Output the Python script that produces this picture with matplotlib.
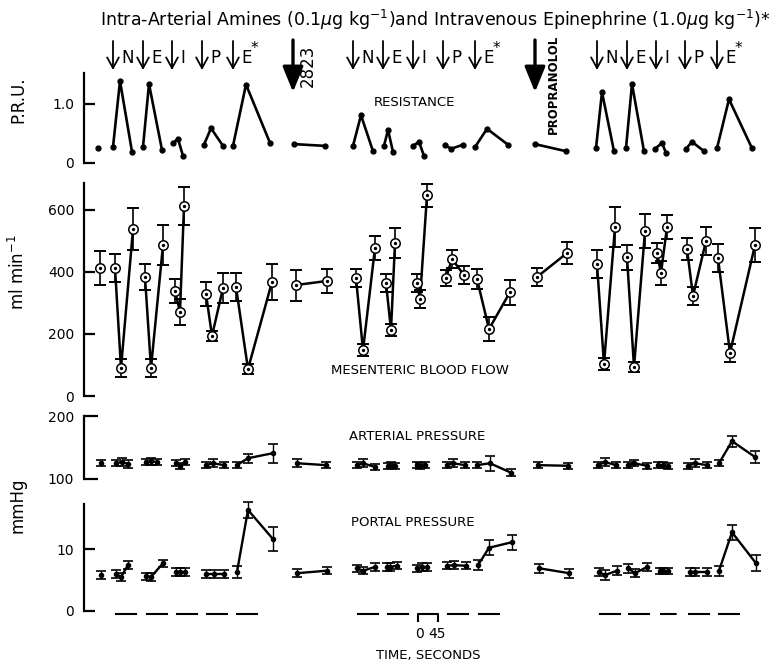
import numpy as np
import matplotlib
matplotlib.use('Agg')
import matplotlib.pyplot as plt

plt.rcParams['font.family'] = ['DejaVu Sans']

W, H = 777, 663

# group id of each sample: points with the same id are joined by a line
groups = [0, 1, 1, 1, 2, 2, 2, 3, 3, 3, 4, 4, 4, 5, 5, 5, 6, 6,
          7, 7, 7, 8, 8, 8, 9, 9, 9, 10, 10, 10, 11, 11, 11, 12, 12,
          13, 13, 13, 14, 14, 14, 15, 15, 15, 16, 16, 16, 17, 17, 17]

# ---- Resistance (P.R.U.) ----
res_t = [98, 113, 120, 132, 143, 149, 162, 173, 178, 183, 204, 211, 223, 233, 246, 270, 294, 325,
         353, 361, 373, 384, 388, 393, 413, 419, 424, 445, 451, 463, 475, 487, 508, 535, 566,
         596, 602, 614, 626, 632, 644, 655, 662, 666, 686, 692, 704, 717, 729, 752]
res_v = [0.25, 0.27, 1.39, 0.19, 0.27, 1.34, 0.22, 0.34, 0.41, 0.12, 0.31, 0.59, 0.29, 0.29, 1.33, 0.34, 0.32, 0.29,
         0.29, 0.81, 0.20, 0.29, 0.56, 0.19, 0.29, 0.36, 0.12, 0.31, 0.24, 0.31, 0.27, 0.58, 0.31, 0.32, 0.20,
         0.25, 1.20, 0.20, 0.25, 1.34, 0.20, 0.24, 0.34, 0.17, 0.24, 0.36, 0.20, 0.25, 1.08, 0.25]

# ---- Mesenteric blood flow (ml/min) ----
flow_t = [100, 115, 121, 133, 145, 151, 163, 175, 180, 184, 206, 212, 223, 236, 248, 272, 296, 327,
          356, 363, 375, 386, 391, 395, 417, 420, 427, 446, 452, 464, 477, 489, 510, 537, 567,
          597, 604, 615, 627, 634, 645, 657, 661, 667, 687, 693, 706, 718, 730, 755]
flow_v = [413, 413, 90, 538, 384, 90, 487, 339, 271, 613, 329, 194, 348, 352, 87, 368, 358, 371,
          381, 148, 478, 365, 213, 494, 365, 313, 648, 381, 442, 390, 377, 216, 335, 384, 461,
          426, 103, 545, 448, 94, 532, 461, 397, 545, 474, 323, 500, 445, 139, 487]
flow_e = [55, 45, 30, 68, 43, 28, 65, 38, 43, 60, 40, 15, 48, 46, 15, 58, 50, 40,
          29, 20, 38, 30, 20, 48, 30, 30, 37, 27, 30, 28, 33, 38, 40, 28, 35,
          45, 20, 65, 40, 15, 55, 32, 38, 38, 35, 28, 45, 45, 28, 55]

# ---- Arterial pressure (mmHg) ----
art_t = [101, 116, 122, 128, 146, 151, 157, 176, 180, 185, 206, 213, 224, 237, 248, 273, 297, 326,
         357, 363, 375, 388, 391, 395, 417, 420, 425, 447, 453, 465, 477, 490, 511, 538, 568,
         598, 605, 616, 628, 634, 647, 658, 663, 668, 688, 695, 707, 719, 732, 755]
art_v = [125, 125, 127, 124, 127, 128, 127, 125, 121, 127, 122, 125, 122, 122, 133, 141, 125, 122,
         122, 125, 119, 121, 122, 121, 122, 121, 122, 122, 125, 122, 122, 125, 110, 122, 121,
         122, 127, 122, 122, 125, 121, 122, 122, 121, 121, 125, 122, 125, 160, 135]
art_e = [5, 5, 6, 6, 5, 5, 5, 5, 5, 5, 5, 6, 5, 5, 7, 15, 6, 5,
         5, 6, 5, 5, 5, 5, 5, 5, 5, 5, 6, 5, 5, 12, 6, 5, 5,
         5, 6, 5, 5, 5, 5, 5, 5, 5, 5, 6, 5, 5, 9, 9]

# ---- Portal pressure (mmHg) ----
por_t = [101, 116, 121, 128, 146, 151, 163, 176, 180, 185, 206, 214, 224, 237, 248, 273, 297, 327,
         357, 363, 375, 387, 390, 397, 417, 422, 427, 447, 454, 466, 478, 489, 512, 539, 569,
         599, 605, 617, 628, 635, 647, 660, 663, 668, 690, 695, 707, 719, 732, 756]
por_v = [5.8, 6.0, 5.5, 7.4, 5.6, 5.5, 7.7, 6.3, 6.3, 6.3, 6.0, 6.0, 6.0, 6.3, 16.3, 11.6, 6.1, 6.5,
         6.9, 6.5, 7.1, 7.1, 7.1, 7.3, 6.9, 7.1, 7.1, 7.3, 7.4, 7.3, 7.4, 10.2, 11.1, 6.9, 6.1,
         6.3, 5.8, 6.5, 6.9, 6.1, 7.1, 6.5, 6.5, 6.5, 6.3, 6.3, 6.3, 6.5, 12.7, 7.7]
por_e = [0.6, 0.6, 0.7, 0.7, 0.6, 0.6, 0.6, 0.6, 0.6, 0.6, 0.6, 0.6, 0.6, 1.0, 1.3, 2.0, 0.6, 0.6,
         0.6, 0.6, 0.6, 0.6, 0.6, 0.6, 0.6, 0.6, 0.6, 0.6, 0.6, 0.6, 0.8, 1.2, 1.2, 0.7, 0.7,
         0.7, 0.8, 0.7, 0.7, 0.6, 0.7, 0.5, 0.5, 0.5, 0.6, 0.6, 0.6, 0.8, 1.2, 1.3]

# ---- injections ----
inj_t = [113, 143, 172, 202, 233, 353, 383, 413, 443, 475, 597, 627, 656, 685, 717]
inj_lab = ['N', 'E', 'I', 'P', 'E*'] * 3
drug_t = [293, 535]
drug_lab = ['2823', 'PROPRANOLOL']
inf_start = [116, 147, 177, 207, 237, 358, 388, 418, 448, 479, 600, 629, 660, 689, 719]
inf_len = 20          # 45 s infusion
scale_lab = ['0', '45']

X0, X1 = 84, 777

fig = plt.figure(figsize=(W / 100, H / 100), dpi=100)


def add_ax(top, bottom):
    return fig.add_axes([X0 / W, 1 - bottom / H, (X1 - X0) / W, (bottom - top) / H])


def setup(ax, ylim, ticks, labels, bounds):
    ax.set_xlim(X0, X1)
    ax.set_ylim(*ylim)
    for s in ['top', 'right', 'bottom']:
        ax.spines[s].set_visible(False)
    ax.spines['left'].set_linewidth(1.6)
    ax.spines['left'].set_bounds(*bounds)
    ax.set_yticks(ticks)
    ax.set_yticklabels(labels)
    ax.tick_params(axis='y', direction='in', length=8, width=1.6, labelsize=10, pad=7)
    ax.set_xticks([])
    ax.patch.set_visible(False)


def joined(ax, t, v, lw=1.8):
    t = np.asarray(t); v = np.asarray(v); g = np.asarray(groups)
    for gid in np.unique(g):
        m = g == gid
        ax.plot(t[m], v[m], color='black', lw=lw, solid_capstyle='round', clip_on=False, zorder=2)


# Resistance
ax_r = add_ax(73, 163)
setup(ax_r, (0, 1.525), [0, 1.0], ['0', '1.0'], (0, 1.525))
joined(ax_r, res_t, res_v, lw=1.9)
ax_r.plot(res_t, res_v, 'o', color='black', ms=3.5, clip_on=False, zorder=3)

# Flow
ax_f = add_ax(183, 396)
setup(ax_f, (0, 687), [0, 200, 400, 600], ['0', '200', '400', '600'], (0, 687))
joined(ax_f, flow_t, flow_v, lw=1.8)
ax_f.errorbar(flow_t, flow_v, yerr=flow_e, fmt='none', ecolor='black', elinewidth=1.2,
              capsize=4.5, capthick=1.4, clip_on=False, zorder=1)
ax_f.plot(flow_t, flow_v, 'o', mfc='white', mec='black', mew=1.1, ms=6.8, clip_on=False, zorder=4)
ax_f.plot(flow_t, flow_v, 'o', color='black', ms=1.4, clip_on=False, zorder=5)

# Arterial pressure
ax_a = add_ax(416, 479)
setup(ax_a, (100, 200), [100, 200], ['100', '200'], (100, 200))
ax_a.tick_params(axis='y', length=10)
joined(ax_a, art_t, art_v, lw=1.7)
ax_a.errorbar(art_t, art_v, yerr=art_e, fmt='none', ecolor='black', elinewidth=1.0,
              capsize=3.5, capthick=1.2, clip_on=False, zorder=1)
ax_a.plot(art_t, art_v, 'o', color='black', ms=3, clip_on=False, zorder=3)

# Portal pressure
ax_p = add_ax(504, 611)
setup(ax_p, (0, 17.26), [0, 10], ['0', '10'], (0, 17.26))
joined(ax_p, por_t, por_v, lw=1.7)
ax_p.errorbar(por_t, por_v, yerr=por_e, fmt='none', ecolor='black', elinewidth=1.0,
              capsize=3.5, capthick=1.2, clip_on=False, zorder=1)
ax_p.plot(por_t, por_v, 'o', color='black', ms=3, clip_on=False, zorder=3)

# Overlay in pixel coordinates (same x scale as data axes)
ov = fig.add_axes([0, 0, 1, 1])
ov.set_xlim(0, W)
ov.set_ylim(H, 0)
ov.axis('off')

ov.text(435, 20, r'Intra-Arterial Amines (0.1$\mu$g kg$^{-1}$)and Intravenous Epinephrine (1.0$\mu$g kg$^{-1}$)*',
        ha='center', va='center', fontsize=12.5)

for x, lab in zip(inj_t, inj_lab):
    ov.annotate('', xy=(x, 70), xytext=(x, 41),
                arrowprops=dict(arrowstyle='->,head_length=0.55,head_width=0.3', lw=1.3,
                                color='black', shrinkA=0, shrinkB=0, mutation_scale=14))
    if lab == 'E*':
        ov.text(x + 8, 58, 'E', fontsize=12, ha='left', va='center')
        ov.text(x + 18, 49, '*', fontsize=11, ha='left', va='center')
    else:
        ov.text(x + 8, 58, lab, fontsize=12, ha='left', va='center')

for x, lab in zip(drug_t, drug_lab):
    ov.annotate('', xy=(x, 92), xytext=(x, 40),
                arrowprops=dict(arrowstyle='-|>,head_length=1.1,head_width=0.45', lw=2.4,
                                color='black', fc='black', shrinkA=0, shrinkB=0, mutation_scale=14))
ov.text(drug_t[0] + 15, 66, drug_lab[0], rotation=90, fontsize=12, ha='center', va='center')
ov.text(drug_t[1] + 18, 84, drug_lab[1], rotation=90, fontsize=8.5, fontweight='bold',
        ha='center', va='center')

# infusion bars
for i, x in enumerate(inf_start):
    if i == 7:
        ov.plot([x, x, x + inf_len, x + inf_len], [621, 614, 614, 621], color='black', lw=1.5)
    elif i == 12:
        ov.plot([x, x + inf_len], [614, 614], color='black', lw=1.5, dashes=(8, 2, 1.5, 2))
    else:
        ov.plot([x, x + inf_len], [614, 614], color='black', lw=1.5)
ov.text(inf_start[7] + 2, 634, scale_lab[0], fontsize=10, ha='center', va='center')
ov.text(inf_start[7] + 19, 634, scale_lab[1], fontsize=10, ha='center', va='center')
ov.text(428, 655, 'TIME, SECONDS', fontsize=9.5, ha='center', va='center')

# panel captions
ov.text(414, 103, 'RESISTANCE', fontsize=9.5, ha='center', va='center')
ov.text(420, 370, 'MESENTERIC BLOOD FLOW', fontsize=9.5, ha='center', va='center')
ov.text(417, 437, 'ARTERIAL PRESSURE', fontsize=9.5, ha='center', va='center')
ov.text(413, 522, 'PORTAL PRESSURE', fontsize=9.5, ha='center', va='center')

# y labels
ov.text(18, 100, 'P.R.U.', rotation=90, fontsize=12, ha='center', va='center')
ov.text(18, 272, r'ml min$^{-1}$', rotation=90, fontsize=12, ha='center', va='center')
ov.text(18, 505, 'mmHg', rotation=90, fontsize=12, ha='center', va='center')

fig.savefig('out.png', dpi=100)
